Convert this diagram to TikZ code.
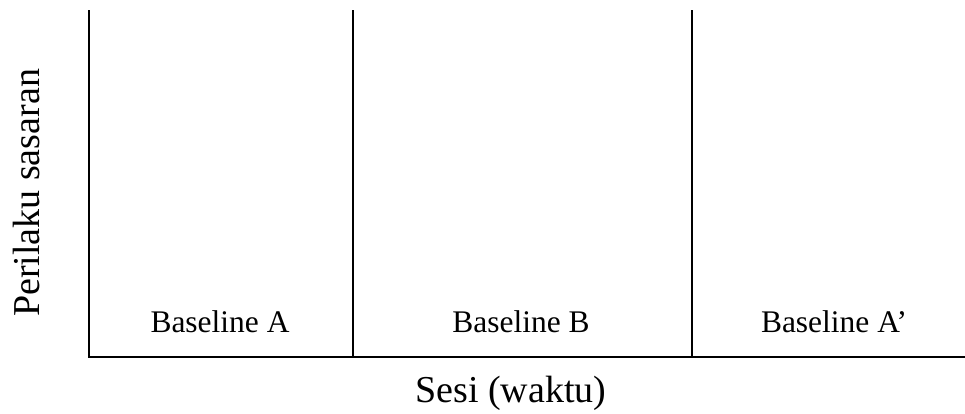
\documentclass[tikz,border=0pt]{standalone}
\usepackage{fontspec}
\setmainfont{Liberation Serif}
\begin{document}
\begin{tikzpicture}[x=0.75pt,y=-0.75pt,
  axisline/.style={line width=1.5pt},
  phase/.style={font=\fontsize{23.6pt}{28pt}\selectfont, anchor=base, inner sep=0pt},
  axlabel/.style={font=\fontsize{28.5pt}{34pt}\selectfont, anchor=base, inner sep=0pt}]
\useasboundingbox (0,0) rectangle (965,414);
\coordinate (top) at (89,10);
\coordinate (origin) at (89,357);
\coordinate (right) at (965,357);
\coordinate (d1top) at (353,10);
\coordinate (d1bot) at (353,357);
\coordinate (d2top) at (692,10);
\coordinate (d2bot) at (692,357);
\draw[axisline] (top) -- (origin) -- (right);
\draw[axisline] (d1top) -- (d1bot);
\draw[axisline] (d2top) -- (d2bot);
\node[phase] (pa) at (220,332) {Baseline A};
\node[phase] (pb) at (521,332) {Baseline B};
\node[phase] (pc) at (834,332) {Baseline A’};
\node[axlabel] (xl) at (511,402) {Sesi (waktu)};
\node[axlabel, rotate=90] (yl) at (40,193) {Perilaku sasaran};
\end{tikzpicture}
\end{document}
